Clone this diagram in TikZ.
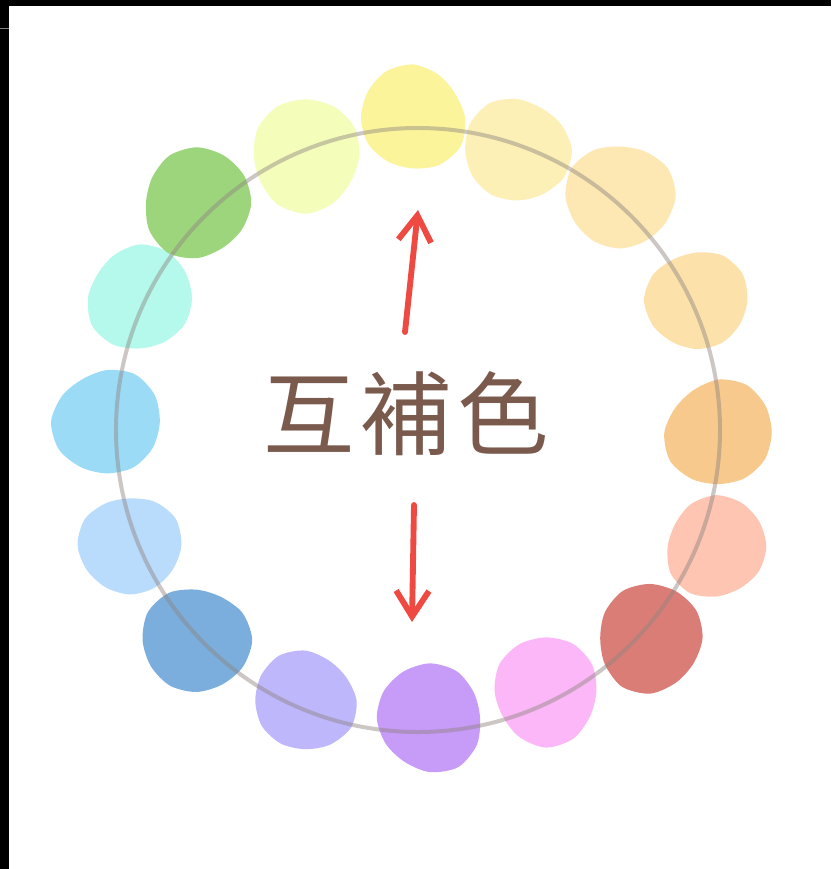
\documentclass[tikz,border=0pt]{standalone}
\usepackage{fontspec}
\newfontfamily\cjk{Noto Sans CJK TC}
\usetikzlibrary{arrows.meta}

% colours of the wheel
\definecolor{ringgray}{HTML}{8E8480}
\definecolor{inkbrown}{HTML}{7B5A4E}
\definecolor{penred}{HTML}{EE4A42}
\definecolor{cA}{HTML}{FBF49A}
\definecolor{cB}{HTML}{FCF0B6}
\definecolor{cC}{HTML}{FDE8B3}
\definecolor{cD}{HTML}{FDE1AA}
\definecolor{cE}{HTML}{F8C98C}
\definecolor{cF}{HTML}{FDC5B2}
\definecolor{cG}{HTML}{DB7D77}
\definecolor{cH}{HTML}{FCB7F8}
\definecolor{cI}{HTML}{C79BF8}
\definecolor{cJ}{HTML}{BFB7FC}
\definecolor{cK}{HTML}{7BAEDC}
\definecolor{cL}{HTML}{B9DBFC}
\definecolor{cM}{HTML}{9BDBF6}
\definecolor{cN}{HTML}{B4F9EC}
\definecolor{cO}{HTML}{9DD57D}
\definecolor{cP}{HTML}{F5FDBB}

\tikzset{
  redarrow/.style={penred, line width=5pt, line cap=round,
    -{Straight Barb[length=22pt, width=28pt, line width=5pt]}},
  ring/.style={ringgray, line width=3.4pt, opacity=0.45},
}

\begin{document}
\begin{tikzpicture}[x=0.03cm, y=-0.03cm]
    \useasboundingbox (0,0) rectangle (831,869);
    % frame
    \fill[black] (0,0) rectangle (831,869);
    \fill[white] (9,6) rectangle (831,869);
    \draw[gray, line width=0.6pt] (0,28) -- (9,28);

    % blobs
    \foreach \bx/\by/\br/\bc/\bs in {
        413/118/52/cA/0, 517/150/52/cB/40, 620/196/53/cC/80,
        697/300/50/cD/120, 719/433/53/cE/160, 716/547/50/cF/200,
        650/638/53/cG/240, 546/691/53/cH/280, 430/718/53/cI/320,
        305/701/50/cJ/20, 196/640/53/cK/60, 130/545/50/cL/100,
        107/422/53/cM/140, 140/298/52/cN/180, 197/203/54/cO/220,
        306/155/55/cP/260} {
        \fill[\bc] plot[variable=\t, domain=0:330, samples=12, smooth cycle]
            ({\bx + \br*(1+0.04*sin(2*\t+\bs)+0.03*sin(3*\t+2*\bs))*cos(\t)},
             {\by + \br*(1+0.04*sin(2*\t+\bs)+0.03*sin(3*\t+2*\bs))*sin(\t)});
    }

    % ring
    \draw[ring] (418,430) circle (302);

    % text
    \node[text=inkbrown, font=\cjk\fontsize{78}{78}\selectfont] (label) at (406,414)
        {互\kern5pt補\kern5pt色};

    % arrows
    \coordinate (upTail) at (405,332);
    \coordinate (upHead) at (418,210);
    \coordinate (downTail) at (414,505);
    \coordinate (downHead) at (412,622);
    \draw[redarrow] (upTail) -- (upHead);
    \draw[redarrow] (downTail) -- (downHead);
\end{tikzpicture}
\end{document}
